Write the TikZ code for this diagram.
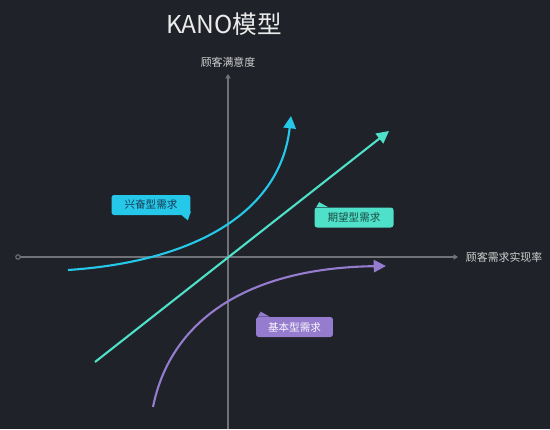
\documentclass[tikz,border=0pt]{standalone}
\usepackage{fontspec}
\newfontfamily\cjk{Noto Sans CJK SC}
\usetikzlibrary{arrows.meta,positioning}
\definecolor{bgdark}{RGB}{31,34,40}
\definecolor{axisgray}{RGB}{112,114,119}
\definecolor{excite}{RGB}{38,200,234}
\definecolor{expect}{RGB}{78,224,200}
\definecolor{basic}{RGB}{150,124,206}
\tikzset{
    axis/.style = {draw=axisgray, line width=0.8pt},
    curve/.style = {line width=1.2pt, -{Triangle[length=7pt,width=7pt]}},
    tag/.style = {rectangle, rounded corners=1.5pt, 
        minimum height=0.4cm, 
        minimum width=1.58cm, inner sep=1pt, align=center,
        font=\cjk\fontsize{6}{7}\selectfont},
    axislabel/.style = {text=black!18, font=\cjk\fontsize{6.2}{7}\selectfont}
}

\begin{document}
\begin{tikzpicture}[x=0.02cm, y=-0.02cm]
        \fill[bgdark] (0,0) rectangle (550,429);
        \useasboundingbox (0,0) rectangle (550,429);
        % title
        \node [text=black!8, font=\cjk\fontsize{14}{16}\selectfont, name=title] at (224,24) {KANO模型};
        % axes
        \coordinate (xstart) at (18,257);
        \coordinate (xend) at (458,257);
        \coordinate (ystart) at (228,429);
        \coordinate (yend) at (228,74);
        \draw [axis,-{Triangle[length=2.5pt,width=3pt]}] (xstart) -- (xend);
        \draw [axis,-{Triangle[length=2.5pt,width=3pt]}] (ystart) -- (yend);
        \draw [axisgray, line width=0.6pt, fill=bgdark] (xstart) circle (2.2);
        \node [axislabel, name=ylabel] at (228,62) {顾客满意度};
        \node [axislabel, right=1pt of xend, name=xlabel] {顾客需求实现率};
        % curves
        \coordinate (e0) at (68,270);
        \coordinate (e1) at (291,116);
        \draw [curve, excite] (e0) .. controls (190,262) and (280,215) .. (e1);
        \coordinate (p0) at (95,362);
        \coordinate (p1) at (389,131);
        \draw [curve, expect] (p0) -- (p1);
        \coordinate (b0) at (153,407);
        \coordinate (b1) at (386,266);
        \draw [curve, basic] (b0) .. controls (170,322) and (245,268) .. (b1);
        % tags
        \node [tag, fill=excite, text={rgb,255:red,24;green,58;blue,80}, name=tagexcite] at (151,205) {兴奋型需求};
        \fill [excite] (tagexcite.south east) ++(-9,0) -- ++(6,5) -- ++(3,-9) -- cycle;
        \node [tag, fill=expect, text={rgb,255:red,28;green,76;blue,66}, name=tagexpect] at (354,217.5) {期望型需求};
        \fill [expect] (tagexpect.north west) ++(2,0) -- ++(3,-5) -- ++(9,5) -- cycle;
        \node [tag, fill=basic, text=white!94!basic, minimum width=1.54cm, name=tagbasic] at (294.5,327) {基本型需求};
        \fill [basic] (tagbasic.north west) ++(2,0) -- ++(3,-5) -- ++(9,5) -- cycle;
\end{tikzpicture}
\end{document}
